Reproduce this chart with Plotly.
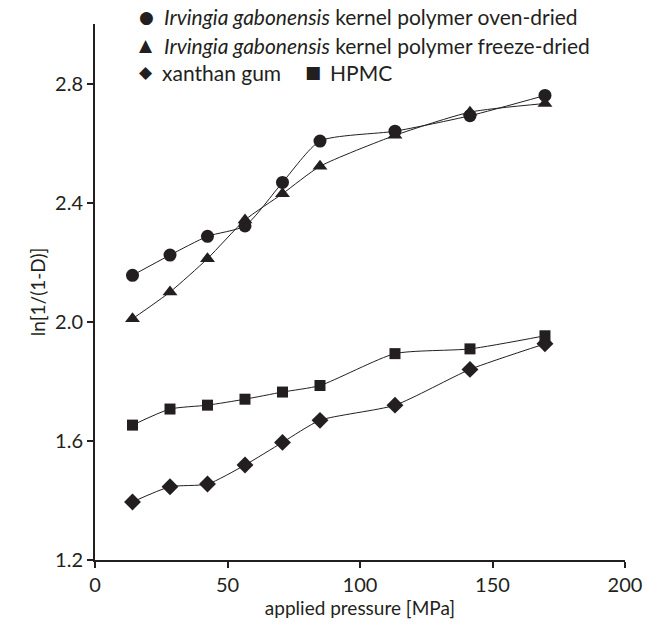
import plotly.graph_objects as go

# Applied compaction pressure (MPa)
pressure = [14.15, 28.3, 42.45, 56.6, 70.75, 84.9, 113.2, 141.5, 169.8]

# Heckel transform ln[1/(1-D)] for each material
oven_dried = [2.156, 2.224, 2.287, 2.322, 2.468, 2.607, 2.640, 2.692, 2.760]
freeze_dried = [2.010, 2.100, 2.212, 2.342, 2.430, 2.522, 2.626, 2.704, 2.733]
xanthan_gum = [1.395, 1.446, 1.455, 1.519, 1.595, 1.669, 1.720, 1.840, 1.926]
hpmc = [1.653, 1.707, 1.720, 1.740, 1.764, 1.786, 1.893, 1.909, 1.953]

x_ticks = [0, 50, 100, 150, 200]
y_ticks = [1.2, 1.6, 2.0, 2.4, 2.8]

INK = "#231f20"
FONT = "Lato, 'Open Sans', sans-serif"

series = [
    ("oven-dried", oven_dried, "circle", 13),
    ("freeze-dried", freeze_dried, "triangle-up", 13),
    ("xanthan gum", xanthan_gum, "diamond", 13),
    ("HPMC", hpmc, "square", 11),
]

fig = go.Figure()
for name, ys, symbol, size in series:
    fig.add_trace(go.Scatter(
        x=pressure, y=ys, name=name, mode="lines+markers",
        line=dict(color=INK, width=1, shape="spline", smoothing=0.6),
        marker=dict(symbol=symbol, size=size, color=INK),
        showlegend=False,
    ))

W, H = 646, 624
L, R, T, B = 95, 21, 24, 64
PW, PH = W - L - R, H - T - B


def px_to_paper(px, py):
    return (px - L) / PW, (H - B - py) / PH


# Legend drawn as text rows above the plot
legend_rows = [
    (146, 17, "●", 162, "<i>Irvingia gabonensis</i> kernel polymer oven-dried"),
    (146, 45, "▲", 162, "<i>Irvingia gabonensis</i> kernel polymer freeze-dried"),
    (146, 72, "◆", 160, "xanthan gum"),
    (313, 72, "■", 328, "HPMC"),
]
for sx, sy, sym, tx, text in legend_rows:
    ax_, ay_ = px_to_paper(sx, sy)
    fig.add_annotation(x=ax_, y=ay_, xref="paper", yref="paper",
                       text=sym, showarrow=False, xanchor="center", yanchor="middle",
                       font=dict(size=17, color=INK, family="DejaVu Sans"))
    tx_, _ = px_to_paper(tx, sy)
    fig.add_annotation(x=tx_, y=ay_, xref="paper", yref="paper",
                       text=text, showarrow=False, xanchor="left", yanchor="middle",
                       font=dict(size=21, color=INK, family=FONT))

axis_common = dict(
    showgrid=False, zeroline=False, showline=True, linecolor=INK, linewidth=2,
    ticks="outside", ticklen=6, tickcolor=INK, tickwidth=1.5,
    tickfont=dict(size=20, color=INK, family=FONT), automargin=False,
)

fig.update_xaxes(range=[0, 200], tickvals=x_ticks, ticktext=[str(v) for v in x_ticks],
                 title=dict(text="applied pressure [MPa]", standoff=4,
                            font=dict(size=19, color=INK, family=FONT)),
                 **axis_common)
fig.update_yaxes(range=[1.2, 3.0], tickvals=y_ticks, ticktext=[f"{v:.1f}" for v in y_ticks],
                 title=dict(text="ln[1/(1-D)]", standoff=4,
                            font=dict(size=19, color=INK, family=FONT)),
                 **axis_common)

fig.update_layout(
    width=W, height=H,
    margin=dict(l=L, r=R, t=T, b=B),
    paper_bgcolor="white", plot_bgcolor="white",
)

fig.write_html("out.html")
